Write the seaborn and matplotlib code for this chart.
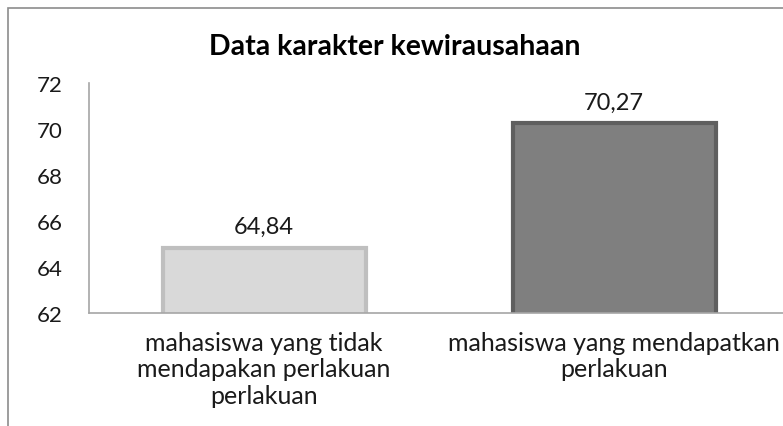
import matplotlib
matplotlib.use("Agg")
import matplotlib.pyplot as plt
import seaborn as sns
from matplotlib.patches import Rectangle

categories = [
    "mahasiswa yang tidak\nmendapakan perlakuan\nperlakuan",
    "mahasiswa yang mendapatkan\nperlakuan",
]
values = [64.84, 70.27]
value_labels = ["64,84", "70,27"]
y_ticks = [62, 64, 66, 68, 70, 72]

fill_colors = ["#d9d9d9", "#7f7f7f"]
edge_colors = ["#bfbfbf", "#5f5f5f"]

sns.set_style("white")
plt.rcParams["font.family"] = ["Lato", "DejaVu Sans"]

fig = plt.figure(figsize=(7.83, 4.27), dpi=100)
ax = fig.add_axes([89 / 783, 1 - 314 / 427, 700 / 783, 230 / 427])

sns.barplot(x=categories, y=values, hue=categories, palette=fill_colors,
            width=0.58, legend=False, ax=ax, saturation=1)
for patch, ec in zip(ax.patches, edge_colors):
    patch.set_edgecolor(ec)
    patch.set_linewidth(3)

ax.set_xlim(-0.5, 1.5)
ax.set_ylim(62, 72)
ax.set_yticks(y_ticks)
ax.tick_params(axis="both", length=0, colors="#1a1a1a")
ax.tick_params(axis="y", pad=19, labelsize=16)
ax.tick_params(axis="x", pad=13, labelsize=18)
for lab in ax.get_xticklabels():
    lab.set_linespacing(1.18)

for x, v, s in zip(range(len(values)), values, value_labels):
    ax.text(x, v + 0.45, s, ha="center", va="bottom", fontsize=17, color="#1a1a1a")

for side in ["top", "right"]:
    ax.spines[side].set_visible(False)
for side in ["left", "bottom"]:
    ax.spines[side].set_color("#a6a6a6")
    ax.spines[side].set_linewidth(1.2)

fig.text(395 / 783, 1 - 47 / 427, "Data karakter kewirausahaan",
         ha="center", va="center", fontsize=20.5, fontweight="bold", color="#000000")

fig.add_artist(Rectangle((8 / 783, -0.1), 1.2, 1.1 - 9 / 427, transform=fig.transFigure,
                         fill=False, edgecolor="#8c8c8c", linewidth=1.2))

fig.savefig("out.png", dpi=100)
